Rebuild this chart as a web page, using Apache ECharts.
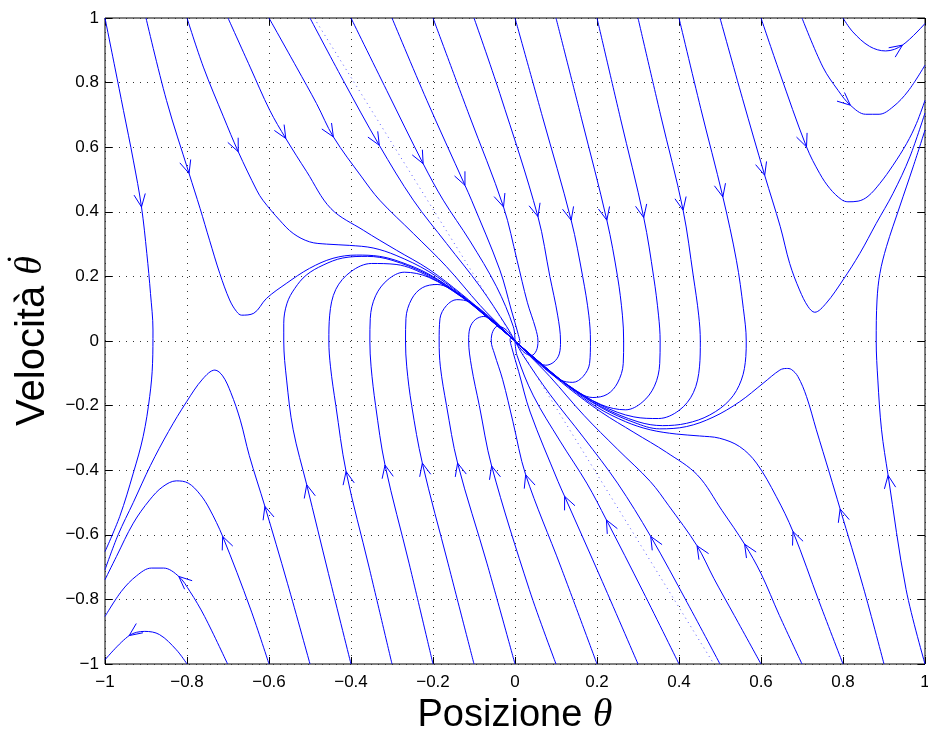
<!DOCTYPE html>
<html><head><meta charset="utf-8">
<script src="https://cdn.jsdelivr.net/npm/echarts@6/dist/echarts.min.js"></script>
<style>html,body{margin:0;padding:0;background:#fff}#c{width:928px;height:729px}</style>
</head><body><div id="c"></div>
<script>
const xTickLabels = ['\u22121','\u22120.8','\u22120.6','\u22120.4','\u22120.2','0','0.2','0.4','0.6','0.8','1'];
const yTickLabels = ['\u22121','\u22120.8','\u22120.6','\u22120.4','\u22120.2','0','0.2','0.4','0.6','0.8','1'];
const xAxisTitle = 'Posizione ';
const yAxisTitle = 'Velocit\u00E0 ';
const thetaSymbol = '\u03B8';
const dotAccent = '\u2022';

// trajectories starting on the top edge (flow: down / right)
const cTopM10 = [[-1,1],[-0.976,0.848],[-0.955,0.714],[-0.931,0.56],[-0.911,0.415],[-0.898,0.271],[-0.889,0.147],[-0.883,0.034],[-0.884,-0.069],[-0.891,-0.172],[-0.907,-0.296],[-0.931,-0.409],[-0.964,-0.543],[-1,-0.652]];
const cTopM09 = [[-0.9,1],[-0.85,0.745],[-0.795,0.519],[-0.768,0.41],[-0.745,0.312],[-0.72,0.209],[-0.696,0.127],[-0.679,0.091],[-0.667,0.08],[-0.637,0.086],[-0.606,0.132],[-0.558,0.178],[-0.501,0.225],[-0.444,0.256],[-0.387,0.266],[-0.33,0.262],[-0.28,0.245],[-0.21,0.207],[-0.13,0.139],[-0.065,0.071],[0,0]];
const cTopM08 = [[-0.8,1],[-0.76,0.848],[-0.711,0.694],[-0.675,0.586],[-0.63,0.467],[-0.615,0.436],[-0.574,0.374],[-0.541,0.333],[-0.501,0.307],[-0.46,0.3],[-0.403,0.296],[-0.346,0.288],[-0.29,0.265],[-0.21,0.215],[-0.13,0.142],[-0.065,0.073],[0,0]];
const cTopM07 = [[-0.7,1],[-0.646,0.848],[-0.598,0.714],[-0.559,0.627],[-0.508,0.524],[-0.449,0.41],[-0.37,0.343],[-0.289,0.281],[-0.21,0.222],[-0.13,0.145],[-0.065,0.075],[0,0]];
const cTopM06 = [[-0.6,1],[-0.533,0.848],[-0.484,0.735],[-0.443,0.632],[-0.374,0.508],[-0.33,0.436],[-0.248,0.333],[-0.167,0.23],[-0.085,0.11],[-0.035,0.045],[0,0]];
const cTopM05 = [[-0.5,1],[-0.419,0.807],[-0.331,0.606],[-0.248,0.436],[-0.167,0.302],[-0.085,0.168],[-0.02,0.044],[0,0]];
const cTopM04 = [[-0.4,1],[-0.313,0.776],[-0.224,0.549],[-0.175,0.436],[-0.11,0.31],[-0.045,0.168],[-0.004,0.044],[0,0]];
const cTopM03 = [[-0.3,1],[-0.215,0.745],[-0.122,0.482],[-0.106,0.436],[-0.037,0.22],[-0.009,0.096],[0.008,0.02],[0.012,-0.005],[0.008,-0.012],[0,0]];
const cTopM02 = [[-0.2,1],[-0.112,0.7],[-0.028,0.415],[0.005,0.25],[0.03,0.12],[0.05,0.04],[0.056,0],[0.052,-0.03],[0.04,-0.045],[0.022,-0.035],[0,0]];
const cTopM01 = [[-0.1,1],[-0.037,0.766],[0.056,0.385],[0.085,0.2],[0.104,0.08],[0.111,0],[0.108,-0.04],[0.095,-0.065],[0.075,-0.075],[0.05,-0.06],[0.025,-0.03],[0,0]];
const cTop00  = [[0,1],[0.067,0.694],[0.137,0.374],[0.165,0.2],[0.18,0.08],[0.184,0],[0.182,-0.069],[0.166,-0.11],[0.141,-0.128],[0.11,-0.12],[0.06,-0.072],[0,0]];
const cTopP01 = [[0.1,1],[0.162,0.69],[0.224,0.374],[0.25,0.2],[0.262,0.08],[0.265,0],[0.264,-0.07],[0.25,-0.13],[0.225,-0.165],[0.19,-0.175],[0.13,-0.138],[0.065,-0.072],[0,0]];
const cTopP02 = [[0.2,1],[0.257,0.69],[0.314,0.382],[0.338,0.2],[0.35,0.08],[0.354,0],[0.353,-0.07],[0.34,-0.14],[0.31,-0.19],[0.27,-0.213],[0.21,-0.197],[0.13,-0.137],[0.065,-0.071],[0,0]];
const cTopP03 = [[0.3,1],[0.355,0.7],[0.41,0.405],[0.435,0.2],[0.448,0.08],[0.452,0],[0.45,-0.08],[0.435,-0.16],[0.4,-0.215],[0.35,-0.24],[0.29,-0.235],[0.21,-0.199],[0.13,-0.138],[0.065,-0.072],[0,0]];
const cTopP04 = [[0.4,1],[0.453,0.72],[0.507,0.446],[0.54,0.25],[0.557,0.1],[0.564,0],[0.563,-0.048],[0.552,-0.121],[0.524,-0.182],[0.475,-0.229],[0.418,-0.255],[0.36,-0.262],[0.3,-0.25],[0.21,-0.203],[0.13,-0.139],[0.065,-0.072],[0,0]];
const cTopP05 = [[0.5,1],[0.555,0.75],[0.609,0.513],[0.647,0.354],[0.67,0.24],[0.694,0.158],[0.715,0.106],[0.731,0.089],[0.759,0.117],[0.8,0.189],[0.841,0.271],[0.881,0.364],[0.922,0.457],[0.963,0.57],[1,0.706]];
const cTopP06 = [[0.6,1],[0.645,0.833],[0.711,0.601],[0.743,0.519],[0.768,0.472],[0.796,0.438],[0.812,0.431],[0.837,0.433],[0.861,0.448],[0.89,0.488],[0.922,0.544],[0.955,0.611],[0.979,0.673],[1,0.745]];
const cTopP07 = [[0.7,1],[0.751,0.848],[0.788,0.776],[0.818,0.73],[0.855,0.702],[0.888,0.702],[0.922,0.725],[0.959,0.774],[1,0.854]];
const cTopP08 = [[0.8,1],[0.824,0.957],[0.865,0.912],[0.904,0.898],[0.945,0.916],[1,0.983]];

// trajectories starting on the bottom edge (flow: up / left)
const cBotP10 = [[1,-1],[0.954,-0.77],[0.91,-0.416],[0.894,-0.275],[0.885,-0.121],[0.881,0],[0.883,0.127],[0.89,0.209],[0.906,0.292],[0.938,0.415],[0.971,0.539],[1,0.653]];
const cBotP09 = [[0.9,-1],[0.849,-0.76],[0.793,-0.52],[0.767,-0.409],[0.735,-0.275],[0.711,-0.172],[0.69,-0.11],[0.674,-0.088],[0.662,-0.085],[0.646,-0.09],[0.605,-0.131],[0.548,-0.188],[0.483,-0.236],[0.418,-0.265],[0.353,-0.272],[0.29,-0.252],[0.21,-0.206],[0.13,-0.139],[0.065,-0.071],[0,0]];
const cBotP08 = [[0.8,-1],[0.743,-0.811],[0.678,-0.59],[0.637,-0.481],[0.589,-0.378],[0.548,-0.327],[0.499,-0.301],[0.45,-0.294],[0.393,-0.288],[0.33,-0.275],[0.27,-0.25],[0.2,-0.205],[0.13,-0.141],[0.065,-0.073],[0,0]];
const cBotP07 = [[0.7,-1],[0.645,-0.85],[0.6,-0.72],[0.56,-0.629],[0.505,-0.525],[0.445,-0.415],[0.37,-0.345],[0.29,-0.283],[0.21,-0.22],[0.13,-0.145],[0.065,-0.075],[0,0]];
const cBotP06 = [[0.6,-1],[0.535,-0.85],[0.485,-0.735],[0.444,-0.634],[0.375,-0.51],[0.33,-0.435],[0.25,-0.335],[0.168,-0.23],[0.085,-0.11],[0.035,-0.045],[0,0]];
const cBotP05 = [[0.5,-1],[0.42,-0.81],[0.331,-0.605],[0.25,-0.44],[0.168,-0.3],[0.085,-0.165],[0.02,-0.045],[0,0]];
const cBotP04 = [[0.4,-1],[0.312,-0.775],[0.223,-0.554],[0.175,-0.44],[0.11,-0.31],[0.045,-0.17],[0.005,-0.045],[0,0]];
const cBotP03 = [[0.3,-1],[0.213,-0.745],[0.121,-0.481],[0.105,-0.435],[0.037,-0.22],[0.009,-0.095],[-0.008,-0.02],[-0.012,0.005],[-0.008,0.012],[0,0]];
const cBotP02 = [[0.2,-1],[0.112,-0.7],[0.026,-0.414],[-0.005,-0.25],[-0.03,-0.12],[-0.05,-0.04],[-0.058,0],[-0.054,0.03],[-0.042,0.046],[-0.022,0.035],[0,0]];
const cBotP01 = [[0.1,-1],[0.035,-0.77],[-0.057,-0.387],[-0.087,-0.2],[-0.106,-0.08],[-0.113,0],[-0.11,0.04],[-0.097,0.066],[-0.076,0.076],[-0.05,0.06],[-0.025,0.03],[0,0]];
const cBot00  = [[0,-1],[-0.068,-0.69],[-0.14,-0.378],[-0.167,-0.2],[-0.182,-0.08],[-0.185,0],[-0.183,0.069],[-0.167,0.11],[-0.142,0.128],[-0.11,0.12],[-0.06,0.072],[0,0]];
const cBotM01 = [[-0.1,-1],[-0.163,-0.69],[-0.226,-0.378],[-0.252,-0.2],[-0.264,-0.08],[-0.267,0],[-0.266,0.07],[-0.252,0.13],[-0.226,0.165],[-0.19,0.175],[-0.13,0.137],[-0.065,0.07],[0,0]];
const cBotM02 = [[-0.2,-1],[-0.258,-0.69],[-0.317,-0.384],[-0.34,-0.2],[-0.351,-0.08],[-0.354,0],[-0.353,0.07],[-0.34,0.14],[-0.31,0.19],[-0.27,0.213],[-0.21,0.197],[-0.13,0.136],[-0.065,0.07],[0,0]];
const cBotM03 = [[-0.3,-1],[-0.356,-0.7],[-0.412,-0.404],[-0.437,-0.2],[-0.45,-0.08],[-0.454,0],[-0.452,0.08],[-0.437,0.16],[-0.4,0.215],[-0.35,0.24],[-0.29,0.237],[-0.21,0.2],[-0.13,0.138],[-0.065,0.071],[0,0]];
const cBotM04 = [[-0.4,-1],[-0.455,-0.72],[-0.508,-0.445],[-0.541,-0.275],[-0.557,-0.121],[-0.564,0],[-0.564,0.055],[-0.556,0.117],[-0.537,0.163],[-0.509,0.204],[-0.468,0.235],[-0.42,0.257],[-0.36,0.262],[-0.3,0.25],[-0.21,0.204],[-0.13,0.139],[-0.065,0.072],[0,0]];
const cBotM05 = [[-0.5,-1],[-0.555,-0.75],[-0.61,-0.512],[-0.648,-0.355],[-0.67,-0.245],[-0.693,-0.16],[-0.713,-0.108],[-0.732,-0.09],[-0.762,-0.118],[-0.801,-0.188],[-0.845,-0.28],[-0.889,-0.385],[-0.931,-0.5],[-0.968,-0.6],[-1,-0.708]];
const cBotM06 = [[-0.6,-1],[-0.645,-0.83],[-0.713,-0.605],[-0.745,-0.52],[-0.768,-0.475],[-0.797,-0.44],[-0.826,-0.433],[-0.859,-0.451],[-0.891,-0.492],[-0.931,-0.564],[-0.972,-0.667],[-1,-0.739]];
const cBotM07 = [[-0.701,-1],[-0.757,-0.853],[-0.793,-0.775],[-0.82,-0.729],[-0.857,-0.703],[-0.887,-0.703],[-0.923,-0.727],[-0.96,-0.775],[-1,-0.853]];
const cBotM08 = [[-0.8,-1],[-0.826,-0.956],[-0.867,-0.909],[-0.903,-0.899],[-0.941,-0.912],[-1,-0.987]];

// dotted eigen-direction segments
const dotUp = [[-0.49,1],[0,0]];
const dotDown = [[0,0],[0.485,-1]];

const curves = [cTopM10,cTopM09,cTopM08,cTopM07,cTopM06,cTopM05,cTopM04,cTopM03,cTopM02,cTopM01,cTop00,cTopP01,cTopP02,cTopP03,cTopP04,cTopP05,cTopP06,cTopP07,cTopP08,
  cBotP10,cBotP09,cBotP08,cBotP07,cBotP06,cBotP05,cBotP04,cBotP03,cBotP02,cBotP01,cBot00,cBotM01,cBotM02,cBotM03,cBotM04,cBotM05,cBotM06,cBotM07,cBotM08];
// index of the point (in each trajectory) where the arrow head sits
const arrowAt = [4,2,3,3,3,2,2,2,2,2,2,2,2,2,2,2,2,3,4,
  2,2,2,3,3,2,2,2,2,2,2,2,2,2,2,2,2,3,4];

const BLUE = '#0000ff';
const series = [];
curves.forEach(c => series.push({type:'line', data:c, symbol:'none', smooth:0.35, silent:true,
  lineStyle:{color:BLUE, width:1}, clip:true}));
[dotUp, dotDown].forEach(c => series.push({type:'line', data:c, symbol:'none', silent:true,
  lineStyle:{color:'rgba(70,70,255,0.9)', width:1, type:[1,4]}}));

const arrowData = curves.map((c,i) => {
  const k = arrowAt[i];
  return [c[k][0], c[k][1], c[k-1][0], c[k-1][1], c[k+1][0], c[k+1][1]];
});
series.push({type:'custom', data:arrowData, silent:true, z:5,
  renderItem:function(params, api){
    const p = api.coord([api.value(0), api.value(1)]);
    const a = api.coord([api.value(2), api.value(3)]);
    const b = api.coord([api.value(4), api.value(5)]);
    let dx = b[0]-a[0], dy = b[1]-a[1];
    const L = Math.hypot(dx,dy); dx/=L; dy/=L;
    const len = 14, ang = 24*Math.PI/180, c = Math.cos(ang), s = Math.sin(ang);
    const bx = -dx, by = -dy;
    const p1 = [p[0]+len*(bx*c - by*s), p[1]+len*(bx*s + by*c)];
    const p2 = [p[0]+len*(bx*c + by*s), p[1]+len*(-bx*s + by*c)];
    return {type:'polyline', shape:{points:[p1,p,p2]}, style:{stroke:BLUE, lineWidth:1, fill:null}};
  }});

const tickFmtX = v => xTickLabels[Math.round((v+1)/0.2)];
const tickFmtY = v => yTickLabels[Math.round((v+1)/0.2)];
const gridLine = {show:true, lineStyle:{color:'#333', width:1, type:[1,6]}};
const SANS = 'Liberation Sans, Arial, sans-serif';
const SERIF = 'Liberation Serif, DejaVu Serif, serif';
const labelFont = {fontFamily:SANS, fontSize:17, color:'#000'};
const nameRich = {
  a:{fontFamily:SANS, fontSize:38, color:'#000'},
  b:{fontFamily:SERIF, fontStyle:'italic', fontSize:40, color:'#000'}
};
const tickCfg = {show:true, inside:true, length:7, lineStyle:{color:'#000'}};

// y-axis title: text + theta rotated; dot accent placed above the theta
const NAME_SIZE = 40, THETA_SIZE = 38;
const mctx = document.createElement('canvas').getContext('2d');
mctx.font = NAME_SIZE + 'px ' + SANS; const wA = mctx.measureText(yAxisTitle).width || 153;
mctx.font = 'italic ' + THETA_SIZE + 'px ' + SERIF; const wB = mctx.measureText(thetaSymbol).width || 19;
const x0 = -(wA + wB) / 2;
const TITLE_X = 53, TITLE_Y = 341;
const dotCy = Math.round(TITLE_Y - (x0 + wA + wB * 0.72));

const option = {
  animation:false,
  backgroundColor:'#fff',
  title:{text:dotAccent, left:7, top:dotCy - 9, padding:0, itemGap:0,
         textStyle:{fontFamily:SANS, fontSize:13, fontWeight:'normal', color:'#000', lineHeight:16}},
  grid:{left:105, right:3, top:18, bottom:65, show:true, borderColor:'#000', borderWidth:1, backgroundColor:'#fff',
        containLabel:false, outerBoundsMode:'none'},
  xAxis:[
    {type:'value', min:-1, max:1, interval:0.2, position:'bottom',
     axisLine:{show:false, onZero:false}, axisTick:tickCfg,
     axisLabel:Object.assign({formatter:tickFmtX, margin:10}, labelFont),
     splitLine:gridLine,
     name:'{a|' + xAxisTitle + '}{b|' + thetaSymbol + '}', nameLocation:'middle', nameGap:28, nameTextStyle:{rich:nameRich}},
    {type:'value', min:-1, max:1, interval:0.2, position:'top',
     axisLine:{show:false, onZero:false}, axisTick:tickCfg,
     axisLabel:{show:false}, splitLine:{show:false}}
  ],
  yAxis:[
    {type:'value', min:-1, max:1, interval:0.2, position:'left',
     axisLine:{show:false, onZero:false}, axisTick:tickCfg,
     axisLabel:Object.assign({formatter:tickFmtY, margin:6}, labelFont),
     splitLine:gridLine},
    {type:'value', min:-1, max:1, interval:0.2, position:'right',
     axisLine:{show:false, onZero:false}, axisTick:tickCfg,
     axisLabel:{show:false}, splitLine:{show:false}}
  ],
  graphic:{elements:[
    {type:'group', id:'ytitle', x:TITLE_X, y:TITLE_Y, rotation:Math.PI/2, silent:true,
     children:[
      {type:'text', id:'ytA', x:x0, y:0, style:{text:yAxisTitle, font:NAME_SIZE + 'px ' + SANS, fill:'#000', align:'left', verticalAlign:'bottom'}},
      {type:'text', id:'ytB', x:x0 + wA, y:-3, style:{text:thetaSymbol, font:'italic ' + THETA_SIZE + 'px ' + SERIF, fill:'#000', align:'left', verticalAlign:'bottom'}}
     ]}
  ]},
  series:series
};
const chart = echarts.init(document.getElementById('c'), null, {renderer:'canvas'});
chart.setOption(option);
</script></body></html>
